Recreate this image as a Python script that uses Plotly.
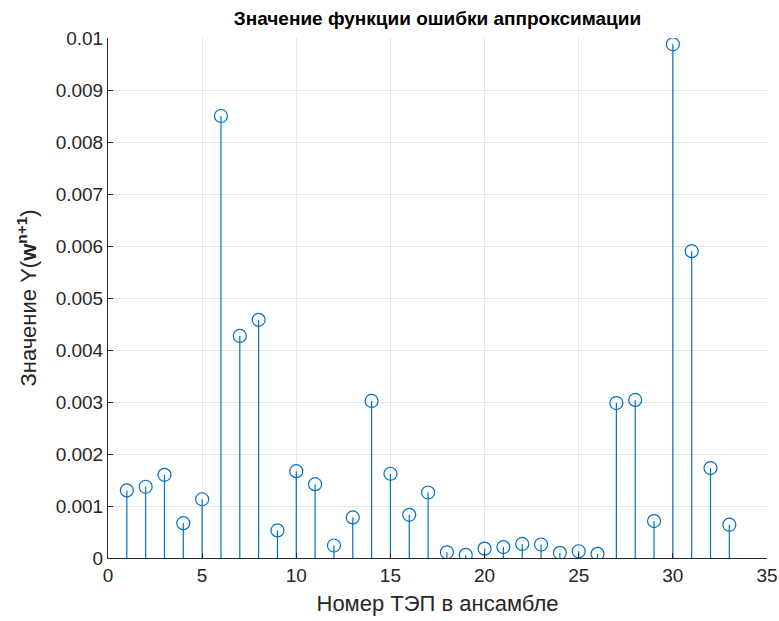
import plotly.graph_objects as go

idx = list(range(1, 34))
err = [0.00130, 0.00137, 0.00160, 0.00067, 0.00113, 0.00850, 0.00427, 0.00458,
       0.00053, 0.00167, 0.00142, 0.00024, 0.00078, 0.00302, 0.00162, 0.00083,
       0.00126, 0.00011, 0.00006, 0.00018, 0.00021, 0.00027, 0.00026, 0.00010,
       0.00013, 0.00008, 0.00298, 0.00304, 0.00071, 0.00988, 0.00590, 0.00173,
       0.00064]
ytick_vals = [i * 0.001 for i in range(11)]
ytick_text = ["0", "0.001", "0.002", "0.003", "0.004", "0.005", "0.006",
              "0.007", "0.008", "0.009", "0.01"]
xtick_vals = [0, 5, 10, 15, 20, 25, 30, 35]

color = "#0072BD"
sx, sy = [], []
for x, y in zip(idx, err):
    sx += [x, x, None]
    sy += [0, y, None]

fig = go.Figure()
fig.add_trace(go.Scatter(x=sx, y=sy, mode="lines",
                         line=dict(color=color, width=1.2),
                         hoverinfo="skip", showlegend=False))
fig.add_trace(go.Scatter(x=idx, y=err, mode="markers",
                         marker=dict(symbol="circle-open", size=13,
                                     color=color, line=dict(width=1.2)),
                         showlegend=False))

fnt = "Liberation Sans, Arial, sans-serif"
fig.update_layout(
    width=779, height=621,
    margin=dict(l=108, r=12, t=38, b=63),
    paper_bgcolor="white", plot_bgcolor="white",
    font=dict(family=fnt, color="#262626", size=19),
    title=dict(text="<b>Значение функции ошибки аппроксимации</b>",
               x=(108 + 767) / 2 / 779, xanchor="center",
               y=1 - 18 / 621, yanchor="middle",
               font=dict(size=19, color="#000000")),
    xaxis=dict(range=[0, 35], tickvals=xtick_vals, showgrid=True,
               gridcolor="#e6e6e6", gridwidth=1, zeroline=False,
               showline=True, linecolor="#262626", linewidth=1,
               ticks="inside", ticklen=5, tickcolor="#262626",
               automargin=False,
               tickfont=dict(size=19, color="#262626"),
               title=dict(text="Номер ТЭП в ансамбле", standoff=10,
                          font=dict(size=22, color="#262626"))),
    yaxis=dict(range=[0, 0.01], tickvals=ytick_vals, ticktext=ytick_text,
               showgrid=True, gridcolor="#e6e6e6", gridwidth=1,
               zeroline=False, showline=True, linecolor="#262626",
               linewidth=1, ticks="inside", ticklen=5, tickcolor="#262626",
               automargin=False,
               tickfont=dict(size=19, color="#262626"),
               title=dict(text="Значение Y(<b>w</b><sup><b>n+1</b></sup>)",
                          standoff=12,
                          font=dict(size=22, color="#262626"))),
)
fig.write_html("out.html")
